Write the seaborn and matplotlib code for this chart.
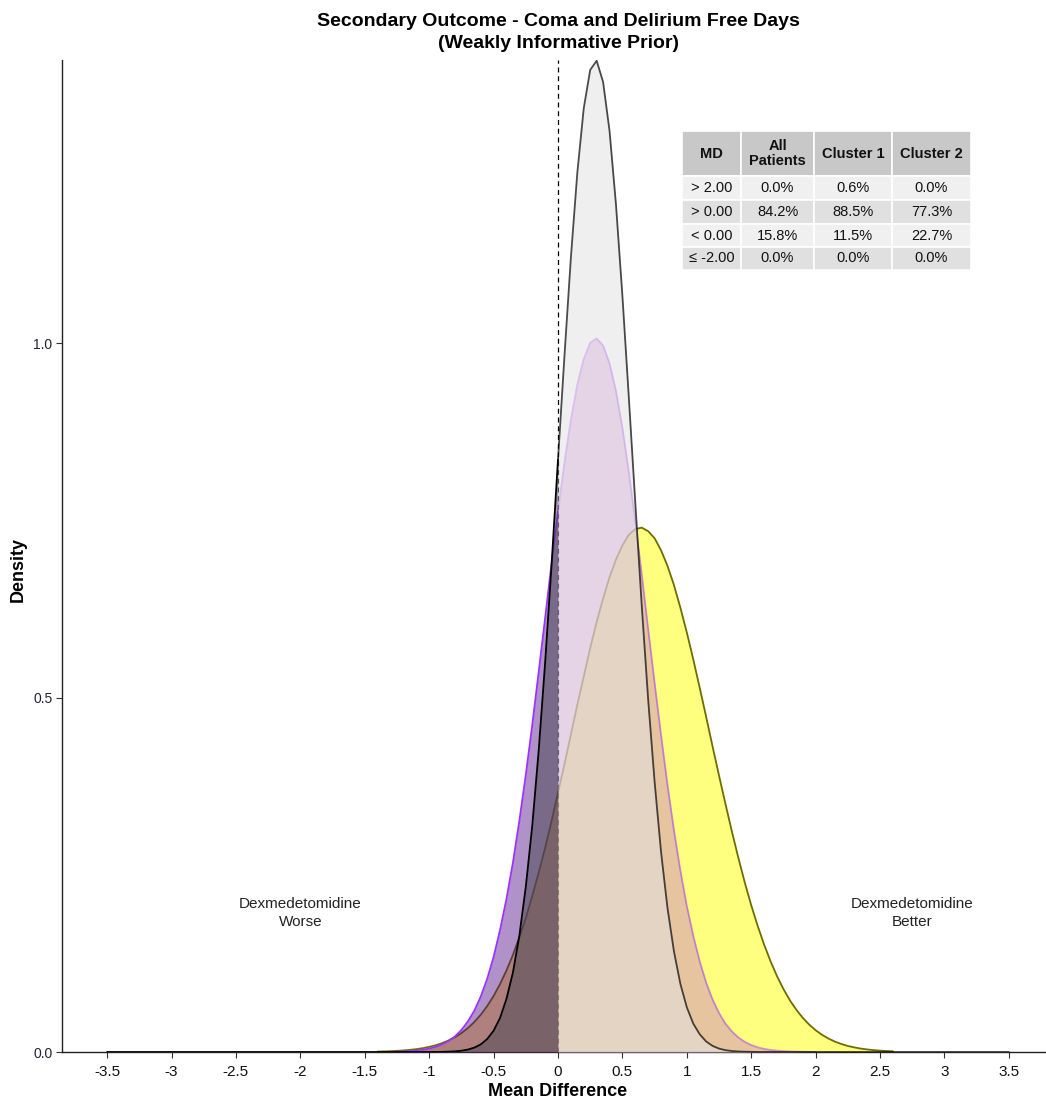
import numpy as np
import pandas as pd
import matplotlib
matplotlib.use("Agg")
import matplotlib.pyplot as plt
import seaborn as sns
from matplotlib.patches import Rectangle

# ---------------- data ----------------
x_grid = [-1.4, -1.35, -1.3, -1.25, -1.2, -1.15, -1.1, -1.05, -1.0, -0.95,
          -0.9, -0.85, -0.8, -0.75, -0.7, -0.65, -0.6, -0.55, -0.5, -0.45,
          -0.4, -0.35, -0.3, -0.25, -0.2, -0.15, -0.1, -0.05, 0.0, 0.05,
          0.1, 0.15, 0.2, 0.25, 0.3, 0.35, 0.4, 0.45, 0.5, 0.55,
          0.6, 0.65, 0.7, 0.75, 0.8, 0.85, 0.9, 0.95, 1.0, 1.05,
          1.1, 1.15, 1.2, 1.25, 1.3, 1.35, 1.4, 1.45, 1.5, 1.55,
          1.6, 1.65, 1.7, 1.75, 1.8, 1.85, 1.9, 1.95, 2.0, 2.05,
          2.1, 2.15, 2.2, 2.25, 2.3, 2.35, 2.4, 2.45, 2.5, 2.55, 2.6]

cluster1_density = [0.0006, 0.0008, 0.0011, 0.0016, 0.0022, 0.0030, 0.0040, 0.0054, 0.0072, 0.0095,
                    0.0125, 0.0162, 0.0209, 0.0266, 0.0337, 0.0422, 0.0525, 0.0647, 0.079, 0.0958,
                    0.115, 0.137, 0.162, 0.189, 0.220, 0.253, 0.288, 0.326, 0.366, 0.406,
                    0.448, 0.490, 0.530, 0.570, 0.607, 0.640, 0.670, 0.695, 0.715, 0.730,
                    0.738, 0.740, 0.735, 0.725, 0.708, 0.686, 0.659, 0.627, 0.592, 0.554,
                    0.514, 0.473, 0.431, 0.390, 0.350, 0.311, 0.274, 0.239, 0.207, 0.178,
                    0.1515, 0.128, 0.107, 0.0888, 0.073, 0.0596, 0.0482, 0.0386, 0.0307, 0.0242,
                    0.0189, 0.0146, 0.0112, 0.0085, 0.0065, 0.0048, 0.0036, 0.0026, 0.0019, 0.0014, 0.0010]

cluster2_density = [0.0001, 0.0002, 0.0003, 0.0005, 0.0008, 0.0013, 0.0020, 0.0032, 0.0048, 0.0072,
                    0.0106, 0.0154, 0.022, 0.031, 0.043, 0.058, 0.078, 0.103, 0.134, 0.172,
                    0.216, 0.267, 0.326, 0.391, 0.461, 0.536, 0.612, 0.689, 0.763, 0.832,
                    0.892, 0.942, 0.978, 1.001, 1.007, 0.997, 0.972, 0.933, 0.881, 0.818,
                    0.749, 0.674, 0.597, 0.521, 0.447, 0.377, 0.313, 0.256, 0.206, 0.164,
                    0.128, 0.098, 0.074, 0.055, 0.040, 0.029, 0.0205, 0.0143, 0.0098, 0.0066,
                    0.0044, 0.0029, 0.0019, 0.0012, 0.0007, 0.0005, 0.0003, 0.0002, 0.0001, 0.0,
                    0.0, 0.0, 0.0, 0.0, 0.0, 0.0, 0.0, 0.0, 0.0, 0.0, 0.0]

all_density = [0.0, 0.0, 0.0, 0.0, 0.0, 0.0, 0.0, 0.0, 0.0001, 0.0001,
               0.0002, 0.0005, 0.0009, 0.0018, 0.0034, 0.0061, 0.0107, 0.0182, 0.030, 0.048,
               0.075, 0.112, 0.164, 0.233, 0.319, 0.425, 0.549, 0.687, 0.836, 0.982,
               1.121, 1.241, 1.332, 1.386, 1.399, 1.369, 1.300, 1.196, 1.067, 0.923,
               0.775, 0.630, 0.497, 0.381, 0.282, 0.203, 0.142, 0.096, 0.063, 0.040,
               0.025, 0.0148, 0.0086, 0.0048, 0.0026, 0.0014, 0.0007, 0.0004, 0.0002, 0.0,
               0.0, 0.0, 0.0, 0.0, 0.0, 0.0, 0.0, 0.0, 0.0, 0.0,
               0.0, 0.0, 0.0, 0.0, 0.0, 0.0, 0.0, 0.0, 0.0, 0.0, 0.0]

all_tail_x = [-3.5, 3.5]
all_tail_density = [0.0, 0.0]

x_ticks = [-3.5, -3, -2.5, -2, -1.5, -1, -0.5, 0, 0.5, 1, 1.5, 2, 2.5, 3, 3.5]
x_tick_labels = ["-3.5", "-3", "-2.5", "-2", "-1.5", "-1", "-0.5", "0", "0.5", "1",
                 "1.5", "2", "2.5", "3", "3.5"]
y_ticks = [0.0, 0.5, 1.0]
y_tick_labels = ["0.0", "0.5", "1.0"]

table_header = ["MD", "All\nPatients", "Cluster 1", "Cluster 2"]
table_rows = ["> 2.00", "> 0.00", "< 0.00", "\u2264 -2.00"]
table_all = ["0.0%", "84.2%", "15.8%", "0.0%"]
table_c1 = ["0.6%", "88.5%", "11.5%", "0.0%"]
table_c2 = ["0.0%", "77.3%", "22.7%", "0.0%"]

# ---------------- styling ----------------
sns.set_style("ticks")
plt.rcParams['font.family'] = ['Liberation Sans', 'DejaVu Sans']

W, H = 1046, 1102
fig = plt.figure(figsize=(W / 100, H / 100), dpi=100)
ax_l, ax_r, ax_b, ax_t = 62, 1054, 1052, 60
ax = fig.add_axes([ax_l / W, 1 - ax_b / H, (ax_r - ax_l) / W, (ax_b - ax_t) / H])


def px2fig(x, y):
    return x / W, 1 - y / H


ax.axvline(0, color="black", lw=0.9, ls=(0, (4, 3)), zorder=0.5)


def draw_curve(xs, ys, left_fc, right_fc, alpha, lc, la_left, la_right, z):
    xs = np.asarray(xs, dtype=float)
    ys = np.asarray(ys, dtype=float)
    ml = xs <= 0
    mr = xs >= 0
    ax.fill_between(xs[ml], 0, ys[ml], color=left_fc, alpha=alpha, lw=0, zorder=z)
    ax.fill_between(xs[mr], 0, ys[mr], color=right_fc, alpha=alpha, lw=0, zorder=z)
    sns.lineplot(x=xs[ml], y=ys[ml], color=lc, alpha=la_left, lw=1.3,
                 sort=False, estimator=None, ax=ax, zorder=z + 0.1)
    sns.lineplot(x=xs[mr], y=ys[mr], color=lc, alpha=la_right, lw=1.3,
                 sort=False, estimator=None, ax=ax, zorder=z + 0.1)


# Cluster 1 (yellow) at the bottom
draw_curve(x_grid, cluster1_density, (1.0, 0.78, 0.0), (1.0, 1.0, 0.0), 0.5,
           "#6e6e00", 1.0, 1.0, 2)
# Cluster 2 (purple)
draw_curve(x_grid[2:69], cluster2_density[2:69], (73 / 255, 0, 129 / 255),
           (199 / 255, 120 / 255, 203 / 255), 0.43, "#9B30FF", 1.0, 0.5, 3)
# All patients (grey / black)
xa = [all_tail_x[0]] + x_grid + [all_tail_x[1]]
ya = [all_tail_density[0]] + all_density + [all_tail_density[1]]
draw_curve(xa, ya, (78 / 255, 75 / 255, 87 / 255), (227 / 255, 227 / 255, 227 / 255), 0.55,
           "#000000", 1.0, 0.7, 4)

ax.set_xlim(-3.85, 3.85)
ax.set_ylim(0, 1.40)
ax.set_xticks(x_ticks)
ax.set_xticklabels(x_tick_labels)
ax.set_yticks(y_ticks)
ax.set_yticklabels(y_tick_labels)
ax.tick_params(axis="x", labelsize=11, labelcolor="#111111", color="#333333",
               length=4, width=0.8, direction="out", pad=5)
ax.tick_params(axis="y", labelsize=10, labelcolor="#222233", color="#333333",
               length=4, width=0.8, direction="out", pad=3)
for s in ["top", "right"]:
    ax.spines[s].set_visible(False)
for s in ["left", "bottom"]:
    ax.spines[s].set_color("#222222")
    ax.spines[s].set_linewidth(1.0)
ax.set_xlabel("Mean Difference", fontsize=13, fontweight="bold", color="black")
ax.set_ylabel("Density", fontsize=13, fontweight="bold", color="black")
ax.xaxis.set_label_coords((558 - ax_l) / (ax_r - ax_l), -(1091 - ax_b) / (ax_b - ax_t))
ax.xaxis.label.set_verticalalignment("center")
ax.yaxis.set_label_coords(-(ax_l - 18) / (ax_r - ax_l), (ax_b - 570) / (ax_b - ax_t))
ax.yaxis.label.set_verticalalignment("center")

ax.set_title("Secondary Outcome - Coma and Delirium Free Days\n(Weakly Informative Prior)",
             fontsize=14, fontweight="bold", pad=9, linespacing=1.35, color="black")

ax.text(-2.0, 0.196, "Dexmedetomidine\nWorse", ha="center", va="center", fontsize=11,
        color="#222222", linespacing=1.4)
ax.text(2.75, 0.196, "Dexmedetomidine\nBetter", ha="center", va="center", fontsize=11,
        color="#222222", linespacing=1.4)

# ---------------- probability table ----------------
col_edges = [682, 741, 814, 892, 971]
row_edges = [131, 176, 200, 224, 247, 270]
row_bg = ["#C8C8C8", "#F0F0F0", "#E0E0E0", "#F0F0F0", "#E0E0E0"]
cells = [table_header] + [[table_rows[i], table_all[i], table_c1[i], table_c2[i]] for i in range(4)]
for r in range(5):
    for c in range(4):
        x0, x1 = col_edges[c], col_edges[c + 1]
        y0, y1 = row_edges[r], row_edges[r + 1]
        fx0, fy1 = px2fig(x0, y1)
        fig.add_artist(Rectangle((fx0, fy1), (x1 - x0) / W, (y1 - y0) / H,
                                 transform=fig.transFigure, facecolor=row_bg[r],
                                 edgecolor="white", lw=1.2, zorder=10))
        tx, ty = px2fig((x0 + x1) / 2, (y0 + y1) / 2)
        fig.text(tx, ty, cells[r][c], ha="center", va="center", fontsize=10.5,
                 fontweight="bold" if r == 0 else "normal", color="#111111",
                 linespacing=1.15, zorder=11)

fig.savefig("out.png", dpi=100)
